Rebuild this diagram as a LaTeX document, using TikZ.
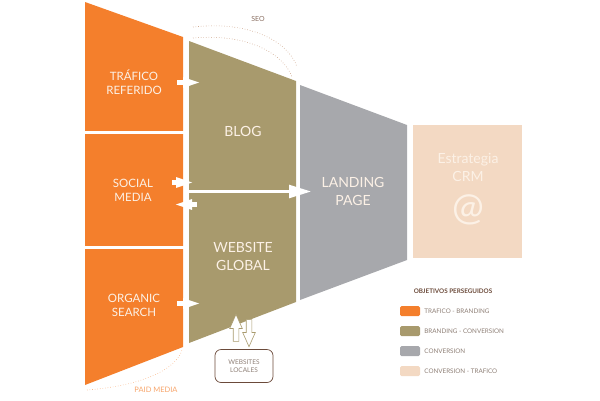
\documentclass[tikz,border=0pt]{standalone}
\usepackage{fontspec}
\setmainfont{Lato}
\usepackage{tikz}
\usetikzlibrary{arrows.meta,positioning,shapes.arrows}
\usepackage{xcolor}
\definecolor{orng}{HTML}{F47F2C}
\definecolor{oliv}{HTML}{A89A6D}
\definecolor{gry}{HTML}{A7A8AC}
\definecolor{peach}{HTML}{F3D9C3}
\definecolor{brn}{HTML}{6B4A3A}
\definecolor{lbl}{HTML}{8E7F76}
\definecolor{cream}{HTML}{FCF1E6}

\begin{document}
\begin{tikzpicture}[x=1pt,y=-1pt,
  big/.style={text=cream,align=center,font=\fontsize{11.5}{14}\selectfont},
  huge/.style={text=cream,align=center,font=\fontsize{14}{18}\selectfont},
  flow/.style={white,line width=5pt,-{Triangle[width=9pt,length=19pt]},shorten <=0pt},
  updown/.style={single arrow,draw=oliv,fill=white,line width=0.6pt,inner sep=2.5pt,
    single arrow head extend=3.5pt,single arrow tip angle=48,minimum height=27pt},
  swatch/.style={rounded corners=1.5pt,minimum width=20pt,minimum height=10pt,inner sep=0pt},
  lgtext/.style={text=lbl,font=\fontsize{6.3}{7}\selectfont,inner sep=0pt}]
  \useasboundingbox (0,0) rectangle (600,400);

  % funnel blocks
  \fill[orng] (85,2) -- (183,37) -- (183,347) -- (85,385) -- cycle;
  \foreach \y in {132.5,247.5} {
    \draw[white,line width=3pt] (84,\y) -- (184,\y);
  }
  \fill[oliv] (189,41) -- (296,81) -- (296,302) -- (189,343) -- cycle;
  \fill[gry] (300,85) -- (407,125) -- (407,260) -- (300,300) -- cycle;
  \fill[peach] (413,125) rectangle (522,258);

  % labels
  \node[big] (trafico) at (134,82) {TRÁFICO\\REFERIDO};
  \node[big] (social) at (133,190) {SOCIAL\\MEDIA};
  \node[big] (organic) at (134,305) {ORGANIC\\SEARCH};
  \node[huge] (blog) at (243,131) {BLOG};
  \node[huge] (global) at (243,256) {WEBSITE\\GLOBAL};
  \node[huge] (landing) at (353,191) {LANDING\\PAGE};
  \node[huge] (crm) at (468,167) {Estrategia\\CRM};
  \node[text=cream,font=\fontsize{38}{38}\selectfont] (at) at (468,210) {@};

  % flows between blocks
  \coordinate (split) at (189,191.5);
  \coordinate (lp) at (311,191.5);
  \draw[white,line width=2.5pt,-{Triangle[width=13pt,length=22pt]}] (split) -- (lp);
  \coordinate (t1) at (177,82.5);   \coordinate (t2) at (202,82.5);
  \coordinate (s1) at (172,182.5);  \coordinate (s2) at (195,182.5);
  \coordinate (s3) at (197,204.5);  \coordinate (s4) at (173,204.5);
  \coordinate (o1) at (177,303.5);  \coordinate (o2) at (202,303.5);
  \draw[flow] (t1) -- (t2);
  \draw[flow] (s1) -- (s2);
  \draw[flow] (s3) -- (s4);
  \draw[flow] (o1) -- (o2);

  % websites locales
  \node[draw=brn,line width=0.7pt,rounded corners=6pt,minimum width=58pt,minimum height=33pt,
    text=lbl,align=center,font=\fontsize{6.5}{8.5}\selectfont] (locales) at (244,366) {WEBSITES\\LOCALES};
  \node[updown,shape border rotate=90] (up) at (236,331) {};
  \node[updown,shape border rotate=270] (down) at (249,330) {};

  % seo and paid media
  \draw[orng!45!brn!60,dotted,line width=0.6pt] (193,27) .. controls (255,20) and (290,45) .. (297,67);
  \draw[orng!45!brn!60,dotted,line width=0.6pt] (193,38) .. controls (250,33) and (284,55) .. (292,77);
  \node[text=brn!80,font=\fontsize{7}{8}\selectfont] (seo) at (258,19) {SEO};
  \draw[orng!60,dotted,line width=0.6pt] (87,390) .. controls (140,386) and (176,370) .. (182,350);
  \node[text=orng!70,font=\fontsize{7.5}{8}\selectfont] (paid) at (156,390) {PAID MEDIA};

  % legend
  \node[text=brn,font=\bfseries\fontsize{6.3}{7}\selectfont] (obj) at (453,291) {OBJETIVOS PERSEGUIDOS};
  \foreach \c/\t [count=\i] in {orng/TRAFICO - BRANDING,oliv/BRANDING - CONVERSION,gry/CONVERSION,peach/CONVERSION - TRAFICO} {
    \node[swatch,fill=\c] (sw\i) at (410,{311+20*(\i-1)}) {};
    \node[lgtext,anchor=west] (lg\i) at ([xshift=4pt]sw\i.east) {\t};
  }
\end{tikzpicture}
\end{document}
